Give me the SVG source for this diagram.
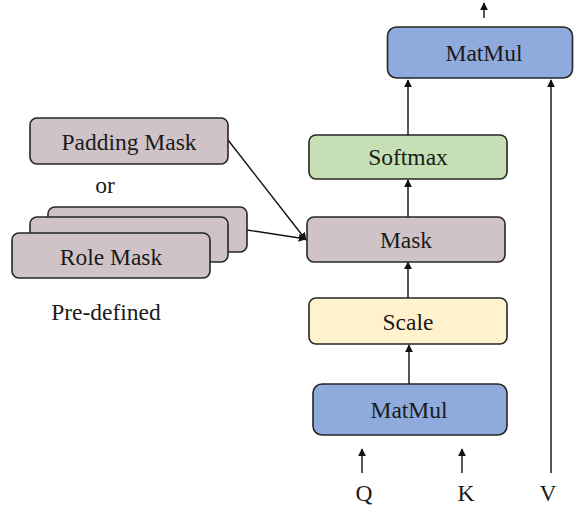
<svg xmlns="http://www.w3.org/2000/svg" width="574" height="510" viewBox="0 0 574 510">
  <style>
    .box { stroke: #262626; stroke-width: 1.6; }
    .blue { fill: #8FAADC; }
    .mauve { fill: #CFC3C7; }
    .green { fill: #C5E0B4; }
    .yellow { fill: #FFF2CC; }
    text { font-family: "Liberation Serif", "Times New Roman", serif; font-size: 23.5px; fill: #1a1a1a; text-anchor: middle; dominant-baseline: central; }
    .edge { stroke: #111; stroke-width: 1.4; fill: none; }
  </style>
  <defs>
    <marker id="arrow" viewBox="0 0 10 10" refX="9" refY="5" markerWidth="8" markerHeight="8" markerUnits="userSpaceOnUse" orient="auto">
      <path d="M0,0 L10,5 L0,10 z" fill="#111"/>
    </marker>
  </defs>

  <g id="connectors">
    <line class="edge" x1="484" y1="18" x2="484" y2="3" marker-end="url(#arrow)"/>
    <line class="edge" x1="408" y1="135" x2="408" y2="80" marker-end="url(#arrow)"/>
    <line class="edge" x1="551" y1="473" x2="551" y2="80" marker-end="url(#arrow)"/>
    <line class="edge" x1="408" y1="217" x2="408" y2="180" marker-end="url(#arrow)"/>
    <line class="edge" x1="408" y1="298" x2="408" y2="262" marker-end="url(#arrow)"/>
    <line class="edge" x1="409" y1="384" x2="409" y2="345" marker-end="url(#arrow)"/>
    <line class="edge" x1="362" y1="473" x2="362" y2="449" marker-end="url(#arrow)"/>
    <line class="edge" x1="462" y1="473" x2="462" y2="449" marker-end="url(#arrow)"/>
    <line class="edge" x1="228" y1="140" x2="306" y2="240" marker-end="url(#arrow)"/>
    <line class="edge" x1="247" y1="230" x2="306" y2="239" marker-end="url(#arrow)"/>
  </g>

  <g id="matmul-top">
    <rect class="box blue" x="387.5" y="27" width="185" height="51" rx="9"/>
    <text x="484" y="53">MatMul</text>
  </g>
  <g id="softmax">
    <rect class="box green" x="309" y="135" width="198" height="44" rx="7"/>
    <text x="408" y="157">Softmax</text>
  </g>
  <g id="mask">
    <rect class="box mauve" x="307" y="217" width="198" height="45" rx="7"/>
    <text x="406" y="240">Mask</text>
  </g>
  <g id="scale">
    <rect class="box yellow" x="309" y="298" width="198" height="46" rx="7"/>
    <text x="408" y="322">Scale</text>
  </g>
  <g id="matmul-bottom">
    <rect class="box blue" x="313" y="384" width="194" height="51" rx="9"/>
    <text x="409" y="410">MatMul</text>
  </g>

  <g id="padding-mask">
    <rect class="box mauve" x="30" y="118" width="198" height="46" rx="7"/>
    <text x="129" y="142">Padding Mask</text>
  </g>
  <g id="or-label">
    <text x="105" y="185">or</text>
  </g>
  <g id="role-mask">
    <rect class="box mauve" x="48" y="207" width="199" height="45" rx="7"/>
    <rect class="box mauve" x="30" y="217" width="198" height="45" rx="7"/>
    <rect class="box mauve" x="12" y="233" width="198" height="45" rx="7"/>
    <text x="111" y="257">Role Mask</text>
  </g>
  <g id="predefined-label">
    <text x="106" y="312">Pre-defined</text>
  </g>

  <g id="inputs">
    <text x="364" y="493">Q</text>
    <text x="466" y="493">K</text>
    <text x="548" y="493">V</text>
  </g>
</svg>
